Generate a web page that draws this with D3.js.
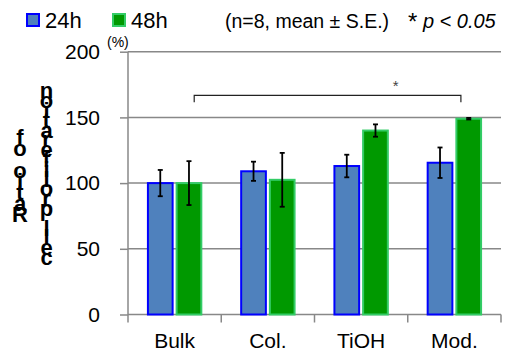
<!DOCTYPE html>
<html>
<head>
<meta charset="utf-8">
<script src="https://cdn.jsdelivr.net/npm/d3@7"></script>
<style>
  body { margin: 0; background: #fff; }
  svg { display: block; font-family: "Liberation Sans", Arial, sans-serif; }
</style>
</head>
<body>
<div id="chart"></div>
<script>
const categories = ['Bulk', 'Col.', 'TiOH', 'Mod.'];
const series = ['24h', '48h'];
const mean24 = [100, 109, 113, 115.5];
const mean48 = [100, 102.5, 140, 149];
const se24 = [10, 7.3, 8.6, 11.6];
const se48 = [16.7, 20.5, 4.7, 0.6];
const yTicks = [0, 50, 100, 150, 200];
const yLabelLines = ['Ratio of', 'cell proliferation'];

const width = 505;
const height = 354;

const svg = d3.select('#chart')
  .append('svg')
  .attr('width', width)
  .attr('height', height);

const x = d3.scaleBand().domain(categories).range([128, 501]).padding(0);
const xs = d3.scaleBand().domain(series).range([0, x.bandwidth()])
  .paddingInner(0.139).paddingOuter(0.694);
const y = d3.scaleLinear().domain([0, 200]).range([314.5, 51.7]);

const fill = { '24h': '#4f81bd', '48h': '#009900' };
const edge = { '24h': '#0000ff', '48h': '#33cc66' };

// gridlines
svg.append('g')
  .selectAll('line')
  .data(yTicks.filter(d => d > 0))
  .enter()
  .append('line')
  .attr('x1', 128).attr('x2', 501)
  .attr('y1', d => y(d)).attr('y2', d => y(d))
  .attr('stroke', '#888').attr('stroke-width', 1.5);

// y axis
const yAxis = svg.append('g').attr('transform', 'translate(128,0)')
  .call(d3.axisLeft(y).tickValues(yTicks).tickSize(8).tickPadding(20));
yAxis.select('.domain').remove();
yAxis.selectAll('line').attr('stroke', '#888').attr('stroke-width', 1.5);
yAxis.selectAll('text').attr('font-size', 21).attr('fill', '#000')
  .attr('font-family', '"Liberation Sans", Arial, sans-serif');
svg.append('line')
  .attr('x1', 128).attr('x2', 128)
  .attr('y1', y(200)).attr('y2', y(0) + 8)
  .attr('stroke', '#888').attr('stroke-width', 1.5);

// x axis
svg.append('line')
  .attr('x1', 128).attr('x2', 501)
  .attr('y1', y(0)).attr('y2', y(0))
  .attr('stroke', '#888').attr('stroke-width', 1.5);
svg.append('g')
  .selectAll('line')
  .data(categories)
  .enter()
  .append('line')
  .attr('x1', d => x(d) + x.bandwidth()).attr('x2', d => x(d) + x.bandwidth())
  .attr('y1', y(0)).attr('y2', y(0) + 8)
  .attr('stroke', '#888').attr('stroke-width', 1.5);
svg.append('g')
  .selectAll('text')
  .data(categories)
  .enter()
  .append('text')
  .attr('x', d => x(d) + x.bandwidth() / 2)
  .attr('y', 348)
  .attr('text-anchor', 'middle')
  .attr('font-size', 21)
  .text(d => d);

// bars
const rows = categories.map((c, i) => [
  { cat: c, s: '24h', v: mean24[i], e: se24[i] },
  { cat: c, s: '48h', v: mean48[i], e: se48[i] }
]).flat();

svg.append('g')
  .selectAll('rect')
  .data(rows)
  .enter()
  .append('rect')
  .attr('x', d => x(d.cat) + xs(d.s))
  .attr('y', d => y(d.v))
  .attr('width', xs.bandwidth())
  .attr('height', d => y(0) - y(d.v))
  .attr('fill', d => fill[d.s])
  .attr('stroke', d => edge[d.s])
  .attr('stroke-width', 2);

// error bars
const eb = svg.append('g').attr('stroke', '#000').attr('stroke-width', 1.8);
rows.forEach(d => {
  const cx = x(d.cat) + xs(d.s) + xs.bandwidth() / 2;
  eb.append('line').attr('x1', cx).attr('x2', cx)
    .attr('y1', y(d.v + d.e)).attr('y2', y(d.v - d.e));
  [d.v + d.e, d.v - d.e].forEach(v => {
    eb.append('line').attr('x1', cx - 2.5).attr('x2', cx + 2.5)
      .attr('y1', y(v)).attr('y2', y(v));
  });
});

// significance bracket
const bx1 = x('Bulk') + x.bandwidth() * 0.71;
const bx2 = x('Mod.') + x.bandwidth() * 0.57;
svg.append('path')
  .attr('d', `M${bx1},${y(161.5)}V${y(166.8)}H${bx2}V${y(161.5)}`)
  .attr('fill', 'none').attr('stroke', '#222').attr('stroke-width', 1.2);
svg.append('text')
  .attr('x', x('TiOH') + x.bandwidth() * 0.87)
  .attr('y', 91)
  .attr('text-anchor', 'middle')
  .attr('font-size', 15)
  .attr('fill', '#444')
  .text('*');

// unit
svg.append('text')
  .attr('x', 107).attr('y', 47)
  .attr('font-size', 14)
  .text('(%)');

// y label: characters stacked upright, reading bottom to top
const stack = [
  { text: yLabelLines[0], cx: 20, bottom: 222, step: 11 },
  { text: yLabelLines[1], cx: 46.5, bottom: 265, step: 9.8 }
];
const yl = svg.append('g').attr('font-size', 22).attr('font-weight', 'bold')
  .attr('text-anchor', 'middle');
stack.forEach(col => {
  col.text.split('').forEach((ch, i) => {
    if (ch === ' ') return;
    yl.append('text')
      .attr('x', col.cx)
      .attr('y', col.bottom - i * col.step)
      .text(ch);
  });
});

// legend
const legend = svg.append('g');
series.forEach((s, i) => {
  const lx = 27 + i * 86;
  legend.append('rect')
    .attr('x', lx).attr('y', 14)
    .attr('width', 12).attr('height', 12)
    .attr('fill', fill[s]).attr('stroke', edge[s]).attr('stroke-width', 2);
  legend.append('text')
    .attr('x', lx + 18).attr('y', 28)
    .attr('font-size', 22)
    .text(s);
});

svg.append('text')
  .attr('x', 225).attr('y', 28)
  .attr('font-size', 19.5)
  .text('(n=8, mean \u00b1 S.E.)');

const pt = svg.append('text').attr('x', 408).attr('y', 28).attr('font-size', 20);
pt.append('tspan').attr('font-size', 24).attr('dy', 2).text('*');
pt.append('tspan').attr('dy', -2).attr('font-style', 'italic').text(' p < 0.05');
</script>
</body>
</html>
